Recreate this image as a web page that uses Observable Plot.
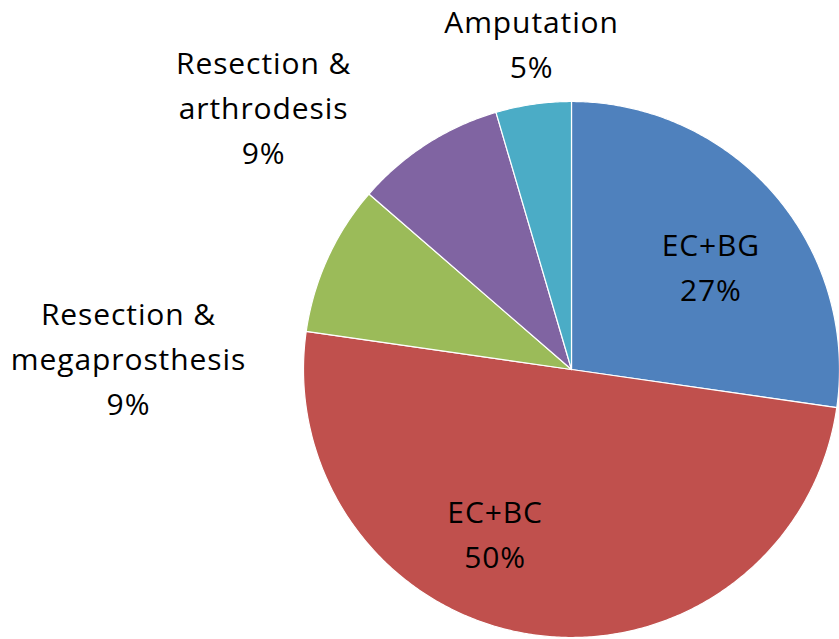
<!DOCTYPE html>
<html>
<head>
<meta charset="utf-8">
<script src="https://cdn.jsdelivr.net/npm/d3@7"></script>
<script src="https://cdn.jsdelivr.net/npm/@observablehq/plot@0.6"></script>
<style>
  html, body { margin: 0; padding: 0; background: #ffffff; }
  #chart svg { display: block; }
  #chart text { letter-spacing: 0.9px; }
</style>
</head>
<body>
<div id="chart"></div>
<script>
// ---- Data ----
const categories = ["EC+BG", "EC+BC", "Resection & megaprosthesis", "Resection & arthrodesis", "Amputation"];
const counts = [6, 11, 2, 2, 1];
const percentLabels = ["27%", "50%", "9%", "9%", "5%"];
const labelLines = [["EC+BG"], ["EC+BC"], ["Resection &", "megaprosthesis"], ["Resection &", "arthrodesis"], ["Amputation"]];
const colors = ["#4F81BD", "#C0504D", "#9BBB59", "#8064A2", "#4BACC6"];

// ---- Layout (label anchor points in pie-radius units, y up) ----
const labelPos = [
  [0.52, 0.375],
  [-0.285, -0.62],
  [-1.653, 0.034],
  [-1.149, 0.97],
  [-0.149, 1.205]
];

const W = 839, H = 639;
const cx = 571, cy = 369, R = 268;

const pie = d3.pie().sort(null).value(d => d.count);
const rows = categories.map((c, i) => ({category: c, count: counts[i]}));
const arcs = pie(rows);

// polygon points for each slice
const pts = [];
arcs.forEach(a => {
  const cat = a.data.category;
  pts.push({category: cat, x: 0, y: 0});
  const n = Math.max(2, Math.ceil((a.endAngle - a.startAngle) / (Math.PI / 360)));
  for (let k = 0; k <= n; k++) {
    const t = a.startAngle + (a.endAngle - a.startAngle) * k / n;
    pts.push({category: cat, x: Math.sin(t), y: Math.cos(t)});
  }
  pts.push({category: cat, x: 0, y: 0});
});

const labels = categories.map((c, i) => ({
  category: c,
  text: [...labelLines[i], percentLabels[i]].join("\n"),
  x: labelPos[i][0],
  y: labelPos[i][1]
}));

const chart = Plot.plot({
  width: W,
  height: H,
  margin: 0,
  style: {background: "#ffffff", fontFamily: "'Open Sans', sans-serif"},
  x: {domain: [-cx / R, (W - cx) / R], range: [0, W], axis: null},
  y: {domain: [-(H - cy) / R, cy / R], range: [H, 0], axis: null},
  color: {domain: categories, range: colors},
  marks: [
    Plot.line(pts, {x: "x", y: "y", z: "category", fill: "category", stroke: "#ffffff", strokeWidth: 1.2, strokeLinejoin: "round"}),
    Plot.text(labels, {
      x: "x", y: "y", text: "text",
      fill: "#000000",
      fontSize: 30,
      lineHeight: 1.5,
      dy: -5,
      textAnchor: "middle",
      frameAnchor: "middle"
    })
  ]
});

document.getElementById("chart").appendChild(chart);
</script>
</body>
</html>
